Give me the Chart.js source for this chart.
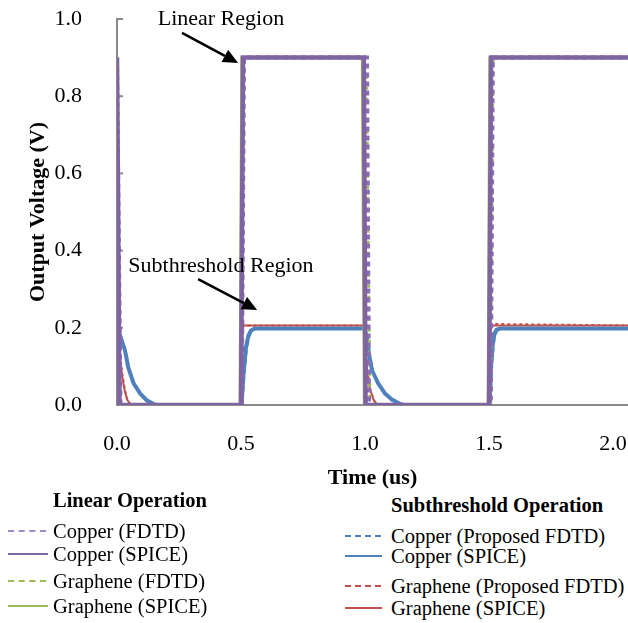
<!DOCTYPE html>
<html lang="en">
<head>
<meta charset="UTF-8">
<title>Output Voltage vs Time</title>
<script src="https://cdn.jsdelivr.net/npm/chart.js"></script>
<style>
  body { margin: 0; background: #fff; font-family: "Liberation Serif", "Times New Roman", serif; color: #000; }
  #wrap { position: relative; width: 628px; height: 623px; overflow: hidden; }
  #chartBox { position: absolute; left: 0; top: 0; width: 628px; height: 492px; }
  .head { position: absolute; font-weight: bold; font-size: 20.5px; line-height: 20px; white-space: nowrap; }
  .item { position: absolute; font-size: 20.5px; line-height: 20px; white-space: nowrap; }
  .sw { position: absolute; height: 0; }
</style>
</head>
<body>
<div id="wrap">
  <div id="chartBox"><canvas id="voltChart"></canvas></div>

  <!-- legend, left group -->
  <div class="head" style="left:53px; top:490px;">Linear Operation</div>
  <div class="sw" style="left:8px; top:530px; width:38px; border-top:2px dashed #a08cc8;"></div>
  <div class="item" style="left:53px; top:521px;">Copper (FDTD)</div>
  <div class="sw" style="left:8px; top:553px; width:40px; border-top:2px solid #8064a2;"></div>
  <div class="item" style="left:53px; top:544px;">Copper (SPICE)</div>
  <div class="sw" style="left:8px; top:580px; width:38px; border-top:2px dashed #9bbb59;"></div>
  <div class="item" style="left:53px; top:571px;">Graphene (FDTD)</div>
  <div class="sw" style="left:8px; top:605px; width:40px; border-top:2px solid #9bbb59;"></div>
  <div class="item" style="left:53px; top:596px;">Graphene (SPICE)</div>

  <!-- legend, right group -->
  <div class="head" style="left:391px; top:495px;">Subthreshold Operation</div>
  <div class="sw" style="left:345px; top:535px; width:36px; border-top:2px dashed #4f81bd;"></div>
  <div class="item" style="left:391px; top:526px;">Copper (Proposed FDTD)</div>
  <div class="sw" style="left:345px; top:555px; width:37px; border-top:2px solid #4f81bd;"></div>
  <div class="item" style="left:391px; top:546px;">Copper (SPICE)</div>
  <div class="sw" style="left:345px; top:585px; width:36px; border-top:2px dashed #c0504d;"></div>
  <div class="item" style="left:391px; top:576px;">Graphene (Proposed FDTD)</div>
  <div class="sw" style="left:345px; top:607px; width:37px; border-top:2px solid #c0504d;"></div>
  <div class="item" style="left:391px; top:598px;">Graphene (SPICE)</div>
</div>

<script>
// tick labels
const xTicks = [0, 0.5, 1.0, 1.5, 2.0];
const yTicks = [0, 0.2, 0.4, 0.6, 0.8, 1.0];

// linear operation (us, V)
const cuLinSpiceT = [0, 0.01, 0.5, 0.508, 0.995, 1.002, 1.5, 1.508, 2.06];
const cuLinSpiceV = [0.9, 0, 0, 0.9, 0.9, 0, 0, 0.9, 0.9];
const cuLinFdtdT  = [0, 0.014, 0.503, 0.512, 1.008, 1.016, 1.507, 1.515, 2.06];
const cuLinFdtdV  = [0.9, 0, 0, 0.9, 0.9, 0, 0, 0.9, 0.9];
const grLinSpiceT = [0, 0.008, 0.495, 0.502, 0.988, 0.996, 1.495, 1.502, 2.06];
const grLinSpiceV = [0.9, 0, 0, 0.9, 0.9, 0, 0, 0.9, 0.9];
const grLinFdtdT  = [0, 0.012, 0.5, 0.51, 1.006, 1.012, 1.02, 1.506, 1.516, 2.06];
const grLinFdtdV  = [0.9, 0, 0, 0.9, 0.9, 0.45, 0, 0, 0.9, 0.9];

// subthreshold operation (us, V)
const cuSubSpiceT = [0, 0.01, 0.02, 0.032, 0.045, 0.066, 0.093, 0.12, 0.145, 0.16,
                     0.502, 0.51, 0.52, 0.53, 0.54, 0.555,
                     0.998, 1.008, 1.018, 1.028, 1.052, 1.08, 1.108, 1.14, 1.155,
                     1.502, 1.508, 1.515, 1.522, 1.53, 1.545, 2.06];
const cuSubSpiceV = [0.198, 0.185, 0.165, 0.142, 0.098, 0.057, 0.03, 0.012, 0.003, 0,
                     0, 0.08, 0.15, 0.18, 0.193, 0.198,
                     0.198, 0.17, 0.125, 0.09, 0.057, 0.03, 0.014, 0.003, 0,
                     0, 0.1, 0.16, 0.185, 0.195, 0.198, 0.198];
const cuSubFdtdT  = [0, 0.012, 0.022, 0.034, 0.047, 0.068, 0.095, 0.122, 0.147, 0.162,
                     0.503, 0.512, 0.522, 0.532, 0.542, 0.557,
                     1.0, 1.01, 1.02, 1.03, 1.054, 1.082, 1.11, 1.142, 1.157,
                     1.503, 1.51, 1.517, 1.524, 1.532, 1.547, 2.06];
const cuSubFdtdV  = [0.198, 0.184, 0.163, 0.14, 0.097, 0.056, 0.029, 0.011, 0.003, 0,
                     0, 0.075, 0.145, 0.178, 0.192, 0.198,
                     0.198, 0.168, 0.123, 0.088, 0.055, 0.029, 0.013, 0.003, 0,
                     0, 0.095, 0.155, 0.183, 0.194, 0.198, 0.198];
const grSubSpiceT = [0, 0.006, 0.012, 0.02, 0.03, 0.04, 0.055,
                     0.5, 0.505, 0.51, 0.995, 1.0, 1.01, 1.02, 1.035, 1.05,
                     1.5, 1.505, 2.06];
const grSubSpiceV = [0.206, 0.16, 0.12, 0.08, 0.04, 0.015, 0,
                     0, 0.19, 0.206, 0.206, 0.15, 0.08, 0.04, 0.012, 0,
                     0, 0.206, 0.206];
const grSubFdtdT  = [0, 0.008, 0.014, 0.022, 0.032, 0.042, 0.057,
                     0.502, 0.506, 0.512, 0.997, 1.002, 1.012, 1.022, 1.037, 1.052,
                     1.502, 1.507, 2.06];
const grSubFdtdV  = [0.206, 0.158, 0.118, 0.078, 0.039, 0.014, 0,
                     0, 0.215, 0.206, 0.206, 0.148, 0.078, 0.039, 0.011, 0,
                     0, 0.21, 0.206];

function series(t, v) {
  return t.map((ti, i) => ({ x: ti, y: v[i] }));
}

const serif = '"Liberation Serif", "Times New Roman", serif';

// annotations
const notes = [
  { text: 'Linear Region', at: [0.419, 1.0], from: [0.262, 0.964], to: [0.488, 0.886] },
  { text: 'Subthreshold Region', at: [0.419, 0.36], from: [0.327, 0.326], to: [0.565, 0.246] }
];

const extras = {
  id: 'extras',
  beforeDatasetsDraw(chart) {
    const { ctx, scales: { x, y } } = chart;
    ctx.save();
    ctx.strokeStyle = '#8a8a8a';
    ctx.lineWidth = 2;
    yTicks.forEach(v => {
      const py = y.getPixelForValue(v);
      ctx.beginPath();
      ctx.moveTo(x.left - 1, py);
      ctx.lineTo(x.left + 6, py);
      ctx.stroke();
    });
    ctx.restore();
  },
  afterDatasetsDraw(chart) {
    const { ctx, scales: { x, y } } = chart;
    ctx.save();
    ctx.font = '22px ' + serif;
    ctx.fillStyle = '#000';
    ctx.textAlign = 'center';
    ctx.textBaseline = 'middle';
    notes.forEach(n => {
      ctx.fillText(n.text, x.getPixelForValue(n.at[0]), y.getPixelForValue(n.at[1]));
      const x1 = x.getPixelForValue(n.from[0]), y1 = y.getPixelForValue(n.from[1]);
      const x2 = x.getPixelForValue(n.to[0]), y2 = y.getPixelForValue(n.to[1]);
      const a = Math.atan2(y2 - y1, x2 - x1);
      const head = 15, half = 7;
      const bx = x2 - head * Math.cos(a), by = y2 - head * Math.sin(a);
      ctx.strokeStyle = '#000';
      ctx.lineWidth = 2.5;
      ctx.beginPath();
      ctx.moveTo(x1, y1);
      ctx.lineTo(bx, by);
      ctx.stroke();
      ctx.beginPath();
      ctx.moveTo(x2, y2);
      ctx.lineTo(bx + half * Math.sin(a), by - half * Math.cos(a));
      ctx.lineTo(bx - half * Math.sin(a), by + half * Math.cos(a));
      ctx.closePath();
      ctx.fill();
    });
    ctx.restore();
  }
};

const ctx = document.getElementById('voltChart').getContext('2d');
new Chart(ctx, {
  type: 'line',
  data: {
    datasets: [
      { label: 'Copper (SPICE)', data: series(cuLinSpiceT, cuLinSpiceV), borderColor: '#8064a2', borderWidth: 4.5, order: 1 },
      { label: 'Copper (FDTD)', data: series(cuLinFdtdT, cuLinFdtdV), borderColor: '#8a6db3', borderWidth: 4, borderDash: [5, 4], order: 2 },
      { label: 'Graphene (FDTD)', data: series(grLinFdtdT, grLinFdtdV), borderColor: '#9bbb59', borderWidth: 3, borderDash: [3, 8], order: 3 },
      { label: 'Graphene (SPICE)', data: series(grLinSpiceT, grLinSpiceV), borderColor: '#9bbb59', borderWidth: 2.5, order: 4 },
      { label: 'Copper (SPICE) sub', data: series(cuSubSpiceT, cuSubSpiceV), borderColor: '#4f81bd', borderWidth: 4, order: 5 },
      { label: 'Copper (Proposed FDTD)', data: series(cuSubFdtdT, cuSubFdtdV), borderColor: '#4bacc6', borderWidth: 3, borderDash: [5, 4], order: 6 },
      { label: 'Graphene (SPICE) sub', data: series(grSubSpiceT, grSubSpiceV), borderColor: '#c0504d', borderWidth: 2, order: 7 },
      { label: 'Graphene (Proposed FDTD)', data: series(grSubFdtdT, grSubFdtdV), borderColor: '#c0504d', borderWidth: 2, borderDash: [3, 3], order: 8 }
    ]
  },
  options: {
    responsive: true,
    maintainAspectRatio: false,
    animation: false,
    elements: { point: { radius: 0 }, line: { tension: 0, fill: false } },
    layout: { padding: { top: 19, right: 0, left: 0, bottom: 0 } },
    plugins: { legend: { display: false }, tooltip: { enabled: false } },
    scales: {
      x: {
        type: 'linear',
        min: 0,
        max: 2.06,
        afterBuildTicks: s => { s.ticks = xTicks.map(v => ({ value: v })); },
        afterFit: s => { s.height = 87; s.paddingLeft = 0; s.paddingRight = 0; },
        grid: { display: false },
        border: { display: true, color: '#8a8a8a', width: 2 },
        ticks: { padding: 18, color: '#000', font: { family: serif, size: 22 }, maxRotation: 0, callback: v => Number(v).toFixed(1) },
        title: { display: true, text: 'Time (us)', color: '#000', padding: 0, font: { family: serif, size: 22, weight: 'bold' } }
      },
      y: {
        type: 'linear',
        min: 0,
        max: 1.0,
        afterBuildTicks: s => { s.ticks = yTicks.map(v => ({ value: v })); },
        afterFit: s => { s.width = 117; s.paddingTop = 0; s.paddingBottom = 0; },
        grid: { display: false },
        border: { display: true, color: '#8a8a8a', width: 2 },
        ticks: { padding: 27, color: '#000', font: { family: serif, size: 22 }, callback: v => Number(v).toFixed(1) },
        title: { display: true, text: 'Output Voltage (V)', color: '#000', padding: { top: 25, bottom: 0 }, font: { family: serif, size: 22, weight: 'bold' } }
      }
    }
  },
  plugins: [extras]
});
</script>
</body>
</html>
